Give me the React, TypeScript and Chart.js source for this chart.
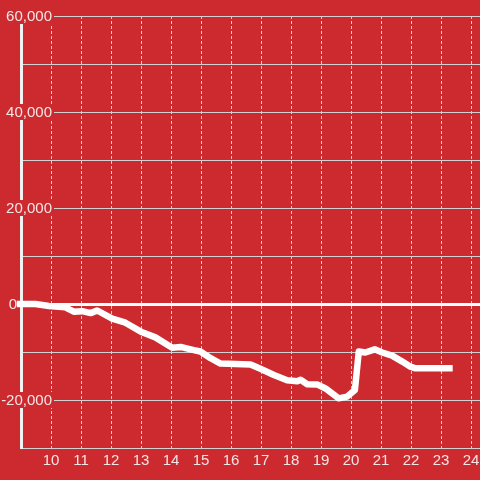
import { useEffect, useRef } from "react";
import { Chart, registerables } from "chart.js";

Chart.register(...registerables);

// Data (hour of day, value)
const hours = [8.86, 9.48, 9.93, 10.48, 10.76, 11.04, 11.32, 11.54, 12.04, 12.48, 13.04, 13.48, 14.04, 14.32, 14.76, 14.98, 15.32, 15.65, 16.65, 16.98, 17.43, 17.87, 18.21, 18.32, 18.54, 18.87, 19.15, 19.59, 19.87, 20.13, 20.26, 20.48, 20.79, 21.04, 21.37, 21.71, 21.98, 22.15, 23.39];
const values = [0, 0, -400, -700, -1600, -1500, -1900, -1350, -3050, -3900, -5900, -6950, -9100, -8950, -9600, -9900, -11300, -12400, -12600, -13500, -14800, -15900, -16100, -15800, -16700, -16750, -17600, -19650, -19300, -17900, -9900, -10100, -9450, -10100, -10750, -12000, -13050, -13400, -13400];

const xTickValues = [10, 11, 12, 13, 14, 15, 16, 17, 18, 19, 20, 21, 22, 23, 24];
const yLabelValues = [60000, 40000, 20000, 0, -20000];

const BG = "#cc2a2f";
const TEXT = "#f4e6e6";
const GRID = "#d2d2d2";
const FONT_FAMILY = '"Liberation Sans", Arial, sans-serif';

const bgPlugin = {
  id: "bgFill",
  beforeDraw(chart: any) {
    const { ctx, width, height } = chart;
    ctx.save();
    ctx.fillStyle = BG;
    ctx.fillRect(0, 0, width, height);
    ctx.restore();
  },
};

const yLabelPlugin = {
  id: "yLabels",
  beforeDatasetsDraw(chart: any) {
    const { ctx } = chart;
    const y = chart.scales.y;
    ctx.save();
    ctx.font = `15px ${FONT_FAMILY}`;
    ctx.textBaseline = "middle";
    ctx.textAlign = "right";
    yLabelValues.forEach((v) => {
      const py = y.getPixelForValue(v);
      const text = v.toLocaleString("en-US");
      const w = ctx.measureText(text).width;
      const right = v === 0 ? 17 : 52;
      ctx.fillStyle = BG;
      ctx.fillRect(right - w - 2, py - 8, w + 4, 16);
      ctx.fillStyle = TEXT;
      ctx.fillText(text, right, py + 1);
    });
    ctx.restore();
  },
};

export default function App() {
  const canvasRef = useRef<HTMLCanvasElement | null>(null);

  useEffect(() => {
    if (!canvasRef.current) return;
    const chart = new Chart(canvasRef.current, {
      type: "line",
      data: {
        datasets: [
          {
            data: hours.map((h, i) => ({ x: h, y: values[i] })),
            borderColor: "#ffffff",
            borderWidth: 6.5,
            pointRadius: 0,
            tension: 0,
            fill: false,
            clip: false as any,
            borderJoinStyle: "round",
          },
        ],
      },
      options: {
        animation: false,
        responsive: false,
        devicePixelRatio: 1,
        layout: { padding: { top: 16, left: 0, right: 0, bottom: 0 } },
        plugins: {
          legend: { display: false },
          tooltip: { enabled: false },
        },
        scales: {
          x: {
            type: "linear",
            min: 9,
            max: 24.3,
            afterBuildTicks: (scale: any) => {
              scale.ticks = xTickValues.map((v) => ({ value: v }));
            },
            afterFit: (scale: any) => {
              scale.height = 32;
            },
            grid: {
              color: GRID,
              lineWidth: 1,
              drawTicks: false,
            },
            border: {
              display: true,
              color: GRID,
              width: 1,
              dash: [3, 2],
            },
            ticks: {
              color: TEXT,
              font: { family: FONT_FAMILY, size: 15, lineHeight: "26px" },
              padding: 0,
              maxRotation: 0,
              autoSkip: false,
              callback: (v: any) => String(v),
            },
          },
          y: {
            type: "linear",
            min: -30000,
            max: 60000,
            ticks: {
              stepSize: 10000,
              display: false,
            },
            afterFit: (scale: any) => {
              scale.width = 21;
            },
            grid: {
              drawTicks: false,
              color: (ctx: any) => (ctx.tick && ctx.tick.value === 0 ? "#ffffff" : GRID),
              lineWidth: (ctx: any) => (ctx.tick && ctx.tick.value === 0 ? 3 : 1),
            },
            border: {
              display: true,
              color: "#f2f2f2",
              width: 3,
            },
          },
        },
      },
      plugins: [bgPlugin, yLabelPlugin],
    });
    return () => chart.destroy();
  }, []);

  return (
    <div style={{ position: "fixed", left: 0, top: 0, width: 480, height: 480, background: BG }}>
      <canvas ref={canvasRef} width={480} height={480} style={{ display: "block" }} />
    </div>
  );
}
